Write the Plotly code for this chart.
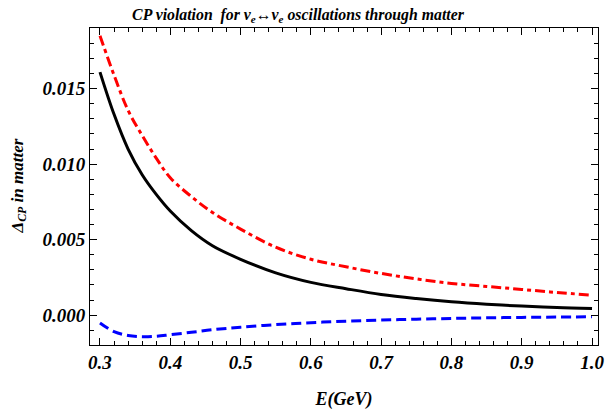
import plotly.graph_objects as go

E = [0.30, 0.32, 0.34, 0.36, 0.38, 0.40, 0.43, 0.46, 0.50, 0.55, 0.60, 0.65,
     0.70, 0.75, 0.80, 0.85, 0.90, 0.95, 1.00]
black_vals = [0.0161, 0.0133, 0.0110, 0.0093, 0.0080, 0.0069, 0.0056, 0.0046,
              0.0037, 0.0028, 0.00217, 0.00175, 0.00137, 0.0011, 0.00088, 0.00072,
              0.0006, 0.0005, 0.00044]
red_vals = [0.0185, 0.0159, 0.01356, 0.0119, 0.0104, 0.0091, 0.00785, 0.0068,
            0.0057, 0.0045, 0.0037, 0.0032, 0.00276, 0.0024, 0.0021, 0.0019,
            0.0017, 0.0015, 0.00132]
blue_vals = [-0.00052, -0.0011, -0.00135, -0.00143, -0.0014, -0.0013, -0.00114,
             -0.00097, -0.0008, -0.00063, -0.0005, -0.0004, -0.00033, -0.00027,
             -0.00022, -0.00018, -0.00015, -0.00013, -0.00011]

x_ticks = [0.3, 0.4, 0.5, 0.6, 0.7, 0.8, 0.9, 1.0]
x_ticklabels = ["0.3", "0.4", "0.5", "0.6", "0.7", "0.8", "0.9", "1.0"]
y_ticks = [0.0, 0.005, 0.010, 0.015]
y_ticklabels = ["0.000", "0.005", "0.010", "0.015"]

FONT = "Liberation Serif, Times New Roman, serif"
X_RANGE = [0.2858, 1.0085]
Y_RANGE = [-0.00198, 0.01902]

fig = go.Figure()
fig.add_trace(go.Scatter(x=E, y=red_vals, mode="lines", line_shape="spline",
                         line=dict(color="#ff0000", width=3, dash="10px,4px,4px,4px")))
fig.add_trace(go.Scatter(x=E, y=black_vals, mode="lines", line_shape="spline",
                         line=dict(color="#000000", width=3)))
fig.add_trace(go.Scatter(x=E, y=blue_vals, mode="lines", line_shape="spline",
                         line=dict(color="#0000ff", width=3, dash="10px,5px")))
# invisible traces to activate the mirrored (top / right) axes
fig.add_trace(go.Scatter(x=[E[0]], y=[None], xaxis="x2", yaxis="y2", showlegend=False,
                         hoverinfo="skip", mode="lines"))

tickfont = dict(family=FONT, size=19, color="black", weight="bold", style="italic")

common = dict(showgrid=False, zeroline=False, showline=True, linecolor="black", linewidth=1,
              ticks="inside", ticklen=7, tickcolor="black", tickwidth=1, automargin=False)

fig.update_layout(
    width=609, height=410,
    margin=dict(l=90, r=11, t=28, b=65),
    paper_bgcolor="white", plot_bgcolor="white",
    showlegend=False,
    title=dict(text="CP violation  for ν<sub>e</sub>↔ν<sub>e</sub> oscillations through matter",
               x=298 / 609, xanchor="center", y=1 - 14 / 410, yanchor="middle",
               font=dict(family=FONT, size=15.8, color="black", weight="bold", style="italic")),
    xaxis=dict(range=X_RANGE, tickmode="array", tickvals=x_ticks, ticktext=x_ticklabels,
               tickfont=tickfont,
               minor=dict(tickmode="linear", dtick=0.02, tick0=0.3, ticks="inside", ticklen=4,
                          tickcolor="black", tickwidth=1, showgrid=False),
               title=dict(text="E(GeV)", standoff=24,
                          font=dict(family=FONT, size=18, color="black", weight="bold", style="italic")),
               **common),
    yaxis=dict(range=Y_RANGE, tickmode="array", tickvals=y_ticks, ticktext=y_ticklabels,
               tickfont=tickfont,
               minor=dict(tickmode="linear", dtick=0.001, tick0=0, ticks="inside", ticklen=4,
                          tickcolor="black", tickwidth=1, showgrid=False),
               **common),
    xaxis2=dict(range=X_RANGE, overlaying="x", side="top", anchor="y2", tickmode="array",
                tickvals=x_ticks, showticklabels=False,
                minor=dict(tickmode="linear", dtick=0.02, tick0=0.3, ticks="inside", ticklen=4,
                           tickcolor="black", tickwidth=1, showgrid=False),
                **common),
    yaxis2=dict(range=Y_RANGE, overlaying="y", side="right", anchor="x2", tickmode="array",
                tickvals=y_ticks, showticklabels=False,
                minor=dict(tickmode="linear", dtick=0.001, tick0=0, ticks="inside", ticklen=4,
                           tickcolor="black", tickwidth=1, showgrid=False),
                **common),
    annotations=[dict(text="Δ<sub>CP</sub> in matter", textangle=-90, showarrow=False,
                      xref="paper", yref="paper", x=(18 - 90) / 508, y=0.5,
                      xanchor="center", yanchor="middle",
                      font=dict(family=FONT, size=17, color="black", weight="bold", style="italic"))],
)

fig.write_html("out.html", config={"displayModeBar": False, "staticPlot": True},
               post_script="document.body.style.margin='0';document.body.style.overflow='hidden';")
